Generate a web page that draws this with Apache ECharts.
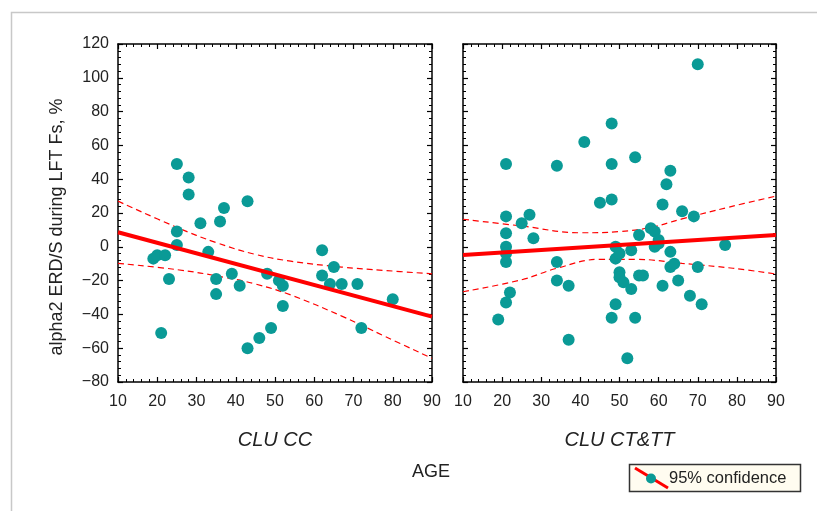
<!DOCTYPE html>
<html>
<head>
<meta charset="utf-8">
<script src="https://cdn.jsdelivr.net/npm/echarts@6/dist/echarts.min.js"></script>
<style>
  html, body { margin: 0; padding: 0; background: #fff; }
  #main { width: 817px; height: 511px; }
</style>
</head>
<body>
<div id="main"></div>
<script>
// panels
var panelNames = ['CLU CC', 'CLU CT&TT'];
var xTicks = [10, 90, 10];      // min, max, interval
var yTicks = [-80, 120, 20];

// CLU CC : [age, value]
var ccPoints = [
  [25, 49], [28, 41], [28, 31], [37, 23], [43, 27], [31, 14], [36, 15],
  [25, 9], [25, 1], [33, -3], [19, -7], [20, -5], [22, -5], [23, -19],
  [35, -19], [39, -16], [41, -23], [35, -28], [48, -16], [51, -20],
  [52, -23], [52, -35], [49, -48], [46, -54], [43, -60], [21, -51],
  [62, -2], [62, -17], [65, -12], [64, -22], [67, -22], [71, -22],
  [72, -48], [80, -31]
];
var ccFit = [[10, 8.6], [90, -41.3]];
var ccUpper = [[10, 27], [25, 11.5], [35, 2.5], [45, -4.5], [54, -8.5], [67, -12], [78, -14], [90, -16]];
var ccLower = [[10, -9.8], [25, -13.5], [37, -18], [45, -22], [54, -28.5], [67, -41], [78, -53], [90, -66]];

// CLU CT&TT : [age, value]
var ctPoints = [
  [70, 108], [48, 73], [41, 62], [54, 53], [21, 49], [34, 48], [48, 49],
  [63, 45], [62, 37], [45, 26], [48, 28], [61, 25], [66, 21], [69, 18],
  [21, 18], [27, 19], [25, 14], [21, 8], [28, 5], [21, 0], [21, -4],
  [21, -9], [22, -27], [21, -33], [19, -43], [34, -9], [34, -20],
  [37, -23], [37, -55], [49, 0], [49, -7], [50, -4], [50, -15], [50, -18],
  [51, -21], [53, -2], [53, -25], [49, -34], [48, -42], [54, -42],
  [52, -66], [55, 7], [55, -17], [56, -17], [58, 11], [59, 9], [60, 4],
  [59, 0], [60, 2], [61, -23], [63, -3], [63, -12], [64, -10], [65, -20],
  [68, -29], [70, -12], [71, -34], [77, 1]
];
var ctFit = [[10, -4.9], [90, 7]];
var ctUpper = [[10, 16.3], [25, 12.3], [40, 8.3], [50, 9], [58, 11.5], [66, 16.5], [78, 23.5], [90, 30]];
var ctLower = [[10, -26.6], [25, -19.5], [34, -12.7], [45, -7.4], [54, -7.4], [66, -9.8], [79, -12.7], [90, -16.1]];

var dotColor = '#0a9a96';
var fitColor = '#ff0000';
var textColor = '#222';
var font = '"Liberation Sans", Arial, sans-serif';

var chart = echarts.init(document.getElementById('main'), null, { renderer: 'canvas' });

var grids = [
  { left: 118, top: 44, width: 314, height: 338 },
  { left: 463, top: 44, width: 313, height: 338 }
];

function axisBase(t, showLabel, pos, gridIndex) {
  return {
    type: 'value',
    gridIndex: gridIndex,
    position: pos,
    min: t[0], max: t[1], interval: t[2],
    axisLine: { show: true, onZero: false, lineStyle: { color: '#000', width: 1.5 } },
    axisTick: { show: true, inside: true, length: 5, lineStyle: { color: '#000', width: 1.2 } },
    minorTick: { show: true, splitNumber: 5, length: 3, lineStyle: { color: '#000', width: 1 } },
    splitLine: { show: false },
    axisLabel: {
      show: showLabel, color: textColor, fontSize: 16, fontFamily: font, margin: 10,
      formatter: function (v) { return String(v).replace('-', '\u2212'); }
    }
  };
}

var xAxes = [], yAxes = [];
for (var g = 0; g < 2; g++) {
  var xb = axisBase(xTicks, true, 'bottom', g);
  xb.axisLabel.margin = 12;
  xb.name = panelNames[g];
  xb.nameLocation = 'middle';
  xb.nameGap = 48;
  xb.nameTextStyle = { color: textColor, fontSize: 20, fontStyle: 'italic', fontFamily: font };
  xAxes.push(xb);
  xAxes.push(axisBase(xTicks, false, 'top', g));

  var yl = axisBase(yTicks, g === 0, 'left', g);
  yl.axisLabel.margin = 9;
  if (g === 0) {
    yl.name = 'alpha2 ERD/S during LFT Fs, %';
    yl.nameLocation = 'middle';
    yl.nameGap = 52;
    // name sits a little below the middle of the axis in the original
    yl.nameTextStyle = { color: textColor, fontSize: 18, fontFamily: font, padding: [0, 28, 0, 0] };
  }
  yAxes.push(yl);
  yAxes.push(axisBase(yTicks, false, 'right', g));
}

function panelSeries(g, points, fit, upper, lower) {
  var xi = g * 2, yi = g * 2;
  var dash = { color: fitColor, width: 1.2, type: [6, 4] };
  return [
    { type: 'line', xAxisIndex: xi, yAxisIndex: yi, data: upper, smooth: 0.4, symbol: 'none', lineStyle: dash, z: 3 },
    { type: 'line', xAxisIndex: xi, yAxisIndex: yi, data: lower, smooth: 0.4, symbol: 'none', lineStyle: dash, z: 3 },
    { type: 'scatter', xAxisIndex: xi, yAxisIndex: yi, data: points, symbolSize: 12, itemStyle: { color: dotColor, opacity: 1 }, z: 4 },
    { type: 'line', xAxisIndex: xi, yAxisIndex: yi, data: fit, symbol: 'none', lineStyle: { color: fitColor, width: 4 }, z: 5 }
  ];
}

var option = {
  backgroundColor: '#fff',
  animation: false,
  grid: grids,
  xAxis: xAxes,
  yAxis: yAxes,
  series: panelSeries(0, ccPoints, ccFit, ccUpper, ccLower)
    .concat(panelSeries(1, ctPoints, ctFit, ctUpper, ctLower)),
  graphic: [
    // outer frame
    { type: 'rect', shape: { x: 11.5, y: 12.5, width: 900, height: 600 }, style: { fill: 'none', stroke: '#c8c8c8', lineWidth: 1.5 }, silent: true },
    { type: 'text', x: 431, y: 472, style: { text: 'AGE', font: '18px ' + font, fill: textColor, align: 'center', verticalAlign: 'middle' } },
    // legend
    { type: 'rect', shape: { x: 629.5, y: 464.5, width: 171, height: 27 }, style: { fill: '#fffcf0', stroke: '#333', lineWidth: 1.5 } },
    { type: 'line', shape: { x1: 635, y1: 468, x2: 668, y2: 488 }, style: { stroke: fitColor, lineWidth: 3 } },
    { type: 'circle', shape: { cx: 651, cy: 478.5, r: 5 }, style: { fill: dotColor } },
    { type: 'text', x: 669, y: 478, style: { text: '95% confidence', font: '16.5px ' + font, fill: textColor, align: 'left', verticalAlign: 'middle' } }
  ]
};
chart.setOption(option);
</script>
</body>
</html>
